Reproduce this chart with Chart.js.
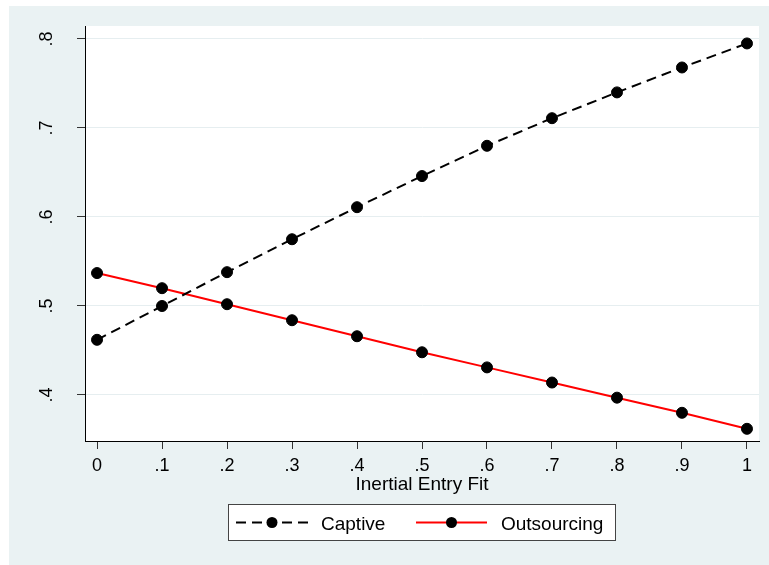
<!DOCTYPE html>
<html>
<head>
<meta charset="utf-8">
<script src="https://cdn.jsdelivr.net/npm/chart.js@4/dist/chart.umd.min.js"></script>
<style>
  html, body { margin: 0; padding: 0; background: #ffffff; }
  #wrap { width: 769px; height: 565px; }
</style>
</head>
<body>
<div id="wrap"><canvas id="c" width="769" height="565"></canvas></div>
<script>
// ---- data ----
const xValues = [0, 0.1, 0.2, 0.3, 0.4, 0.5, 0.6, 0.7, 0.8, 0.9, 1];
const captive = [0.462, 0.500, 0.538, 0.575, 0.611, 0.646, 0.680, 0.711, 0.740, 0.768, 0.795];
const outsourcing = [0.537, 0.520, 0.502, 0.484, 0.466, 0.448, 0.431, 0.414, 0.397, 0.380, 0.362];
const seriesNames = ['Captive', 'Outsourcing'];
const xTickValues = [0, 0.1, 0.2, 0.3, 0.4, 0.5, 0.6, 0.7, 0.8, 0.9, 1];
const xTickLabels = ['0', '.1', '.2', '.3', '.4', '.5', '.6', '.7', '.8', '.9', '1'];
const yTickValues = [0.4, 0.5, 0.6, 0.7, 0.8];
const yTickLabels = ['.4', '.5', '.6', '.7', '.8'];
const xTitle = 'Inertial Entry Fit';

const FONT = '"Liberation Sans", Arial, Helvetica, sans-serif';
const PANEL = 'rgb(234,242,243)';

const toPoints = (ys) => xValues.map((x, i) => ({ x: x, y: ys[i] }));

const decor = {
  id: 'decor',
  beforeDraw(chart) {
    const ctx = chart.ctx, a = chart.chartArea;
    ctx.save();
    ctx.fillStyle = '#ffffff';
    ctx.fillRect(0, 0, chart.width, chart.height);
    ctx.fillStyle = PANEL;
    ctx.fillRect(9, 6, chart.width - 9, chart.height - 6);
    ctx.fillStyle = '#ffffff';
    ctx.fillRect(a.left, a.top, a.right - a.left, a.bottom - a.top);
    ctx.restore();
  },
  afterDraw(chart) {
    const ctx = chart.ctx;
    const ys = chart.scales.y;
    // rotated y tick labels
    ctx.save();
    ctx.fillStyle = '#000';
    ctx.font = '18px ' + FONT;
    ctx.textAlign = 'center';
    ctx.textBaseline = 'alphabetic';
    yTickValues.forEach((v, i) => {
      const py = ys.getPixelForValue(v);
      ctx.save();
      ctx.translate(52, py);
      ctx.rotate(-Math.PI / 2);
      ctx.fillText(yTickLabels[i], 0, 0);
      ctx.restore();
    });
    ctx.restore();

    // legend box
    const bx = 228, by = 504, bw = 388, bh = 37;
    ctx.save();
    ctx.fillStyle = '#ffffff';
    ctx.fillRect(bx, by, bw, bh);
    ctx.strokeStyle = '#444';
    ctx.lineWidth = 1;
    ctx.strokeRect(bx + 0.5, by + 0.5, bw - 1, bh - 1);
    const ly = 522.5;
    const items = [
      { x0: 236, x1: 308, tx: 321 },
      { x0: 416, x1: 487, tx: 501 }
    ];
    chart.data.datasets.forEach((ds, i) => {
      const it = items[i];
      const cx = (it.x0 + it.x1) / 2;
      ctx.strokeStyle = ds.borderColor;
      ctx.lineWidth = ds.borderWidth;
      ctx.setLineDash(ds.borderDash || []);
      ctx.beginPath(); ctx.moveTo(it.x0, ly); ctx.lineTo(cx, ly); ctx.stroke();
      ctx.beginPath(); ctx.moveTo(it.x1, ly); ctx.lineTo(cx, ly); ctx.stroke();
      ctx.setLineDash([]);
      ctx.fillStyle = ds.pointBackgroundColor;
      ctx.beginPath(); ctx.arc(cx, ly, ds.pointRadius, 0, Math.PI * 2); ctx.fill();
      ctx.fillStyle = '#000';
      ctx.font = '19px ' + FONT;
      ctx.textAlign = 'left';
      ctx.textBaseline = 'alphabetic';
      ctx.fillText(ds.label, it.tx, 530);
    });
    ctx.restore();
  }
};

new Chart(document.getElementById('c'), {
  type: 'line',
  data: {
    datasets: [
      {
        label: seriesNames[0],
        data: toPoints(captive),
        borderColor: '#000000',
        borderWidth: 2,
        borderDash: [10, 6],
        pointRadius: 5.5,
        pointBackgroundColor: '#000000',
        pointBorderColor: '#000000',
        pointBorderWidth: 1,
        fill: false,
        tension: 0
      },
      {
        label: seriesNames[1],
        data: toPoints(outsourcing),
        borderColor: '#ff0000',
        borderWidth: 2,
        pointRadius: 5.5,
        pointBackgroundColor: '#000000',
        pointBorderColor: '#000000',
        pointBorderWidth: 1,
        fill: false,
        tension: 0
      }
    ]
  },
  options: {
    responsive: false,
    devicePixelRatio: 1,
    animation: false,
    layout: { padding: { top: 26, right: 10, bottom: 0, left: 0 } },
    plugins: { legend: { display: false }, tooltip: { enabled: false } },
    scales: {
      x: {
        type: 'linear',
        min: -0.0185,
        max: 1.0185,
        afterBuildTicks: (s) => { s.ticks = xTickValues.map(v => ({ value: v })); },
        afterFit: (s) => { s.height = 124; },
        ticks: {
          autoSkip: false,
          maxRotation: 0,
          padding: 6,
          color: '#000',
          font: { family: FONT, size: 18 },
          callback: (v, i) => xTickLabels[i]
        },
        grid: { drawOnChartArea: false, drawTicks: true, tickLength: 8, tickColor: '#333', tickWidth: 1 },
        border: { display: true, color: '#000', width: 1 },
        title: {
          display: true,
          text: xTitle,
          color: '#000',
          font: { family: FONT, size: 19 },
          padding: { top: 0, bottom: 69 }
        }
      },
      y: {
        type: 'linear',
        min: 0.3483,
        max: 0.8146,
        afterBuildTicks: (s) => { s.ticks = yTickValues.map(v => ({ value: v })); },
        afterFit: (s) => { s.width = 85; },
        ticks: { display: false },
        grid: { color: 'rgb(230,238,240)', lineWidth: 1, drawTicks: true, tickLength: 8, tickColor: '#333', tickWidth: 1 },
        border: { display: true, color: '#000', width: 1 }
      }
    }
  },
  plugins: [decor]
});
</script>
</body>
</html>
